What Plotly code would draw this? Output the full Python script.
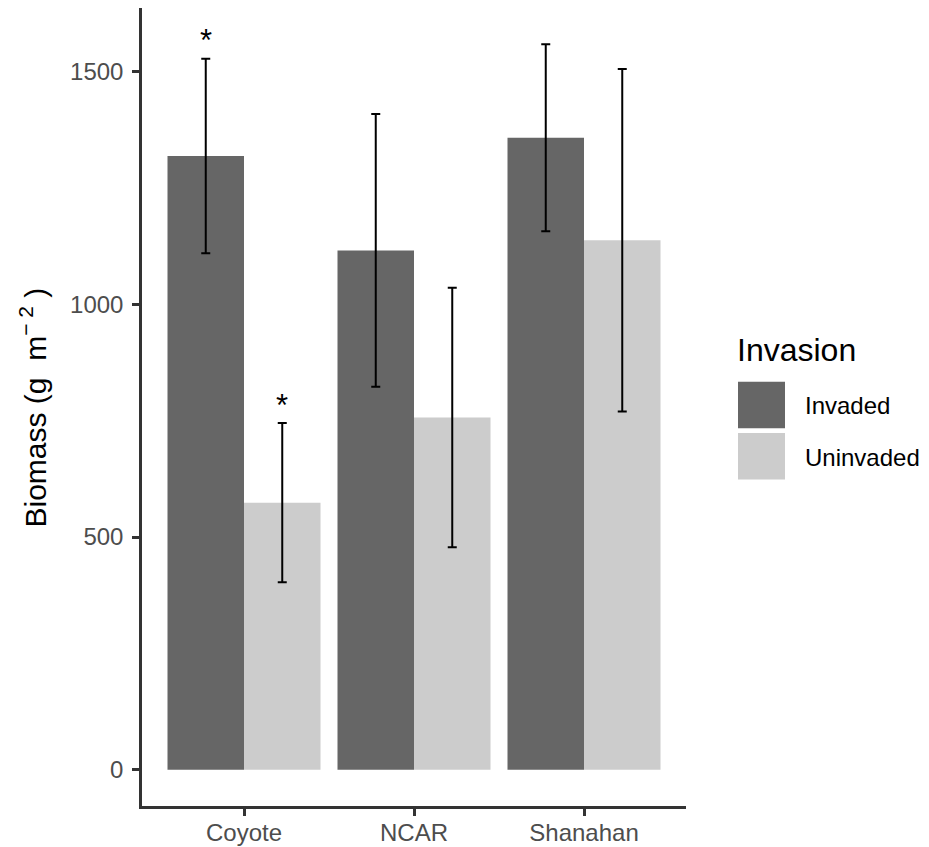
import plotly.graph_objects as go

# ---- data ----
sites = ["Coyote", "NCAR", "Shanahan"]
invaded = [1319, 1116, 1358]
invaded_se = [209, 293, 201]
uninvaded = [574, 757, 1138]
uninvaded_se = [171, 279, 368]
sig_invaded = ["*", "", ""]
sig_uninvaded = ["*", "", ""]
legend_labels = ["Invaded", "Uninvaded"]
colors = ["#666666", "#CCCCCC"]

# the page has an 8px body margin, so the figure is drawn offset by 8px
OFF = 8
W, H = 929, 847
L, T = 142 - OFF, 8 - OFF
PW, PH = 544, 798
R, B = W - L - PW, H - T - PH


def px_x(sx):
    return (sx - OFF - L) / PW


def px_y(sy):
    return (T + PH - (sy - OFF)) / PH


xpos = list(range(1, len(sites) + 1))
ymax = max(max(v + e for v, e in zip(invaded, invaded_se)),
           max(v + e for v, e in zip(uninvaded, uninvaded_se)))
pad = 0.05 * ymax

FONT = "Liberation Sans, Arial, sans-serif"

fig = go.Figure()
for vals, errs, name, col in [(invaded, invaded_se, legend_labels[0], colors[0]),
                              (uninvaded, uninvaded_se, legend_labels[1], colors[1])]:
    fig.add_trace(go.Bar(
        x=xpos, y=vals, name=name, marker=dict(color=col, line=dict(width=0)),
        error_y=dict(type="data", array=errs, visible=True, color="#000000",
                     thickness=2, width=4.5),
        showlegend=False,
    ))

annotations = []
for i, x in enumerate(xpos):
    for sig, vals, errs, off in [(sig_invaded, invaded, invaded_se, -0.225),
                                 (sig_uninvaded, uninvaded, uninvaded_se, 0.225)]:
        if sig[i]:
            annotations.append(dict(
                x=x + off, y=vals[i] + errs[i], xref="x", yref="y",
                text=sig[i], showarrow=False, yanchor="middle", yshift=18,
                font=dict(size=31, color="#000000", family=FONT)))

# y-axis title
annotations.append(dict(
    x=px_x(33), y=px_y(407.5), xref="paper", yref="paper", textangle=-90,
    text="Biomass (g\u00A0\u00A0m<sup>\u2212\u00A02</sup>\u00A0)", showarrow=False,
    xanchor="center", yanchor="middle",
    font=dict(size=30, color="#000000", family=FONT)))

# legend (drawn manually for large keys)
annotations.append(dict(
    x=px_x(735), y=px_y(350), xref="paper", yref="paper", text="Invasion",
    showarrow=False, xanchor="left", yanchor="middle",
    font=dict(size=32, color="#000000", family=FONT)))
shapes = []
key_tops = [381.7, 433]
label_y = [405.5, 457.5]
for lab, col, kt, ly in zip(legend_labels, colors, key_tops, label_y):
    shapes.append(dict(type="rect", xref="paper", yref="paper",
                       x0=px_x(738), x1=px_x(785), y0=px_y(kt + 46.5), y1=px_y(kt),
                       fillcolor=col, line=dict(width=0)))
    annotations.append(dict(
        x=px_x(803), y=px_y(ly), xref="paper", yref="paper", text=lab,
        showarrow=False, xanchor="left", yanchor="middle",
        font=dict(size=24, color="#000000", family=FONT)))

fig.update_layout(
    template="none",
    width=W, height=H,
    margin=dict(l=L, r=R, t=T, b=B, pad=0, autoexpand=False),
    barmode="group", bargap=0.1, bargroupgap=0,
    plot_bgcolor="white", paper_bgcolor="white",
    font=dict(family=FONT),
    annotations=annotations, shapes=shapes,
    xaxis=dict(range=[0.4, len(sites) + 0.6], tickvals=xpos, ticktext=sites,
               automargin=False,
               showline=True, linecolor="#333333", linewidth=2.5,
               ticks="outside", ticklen=7, tickwidth=2.5, tickcolor="#333333",
               tickfont=dict(size=24, color="#4D4D4D"), ticklabelstandoff=-4,
               showgrid=False, zeroline=False),
    yaxis=dict(range=[-pad, ymax + pad], tickvals=[0, 500, 1000, 1500],
               automargin=False,
               showline=True, linecolor="#333333", linewidth=2.5,
               ticks="outside", ticklen=7, tickwidth=2.5, tickcolor="#333333",
               tickfont=dict(size=24, color="#4D4D4D"), ticklabelstandoff=4,
               showgrid=False, zeroline=False),
)

fig.write_html("out.html")
